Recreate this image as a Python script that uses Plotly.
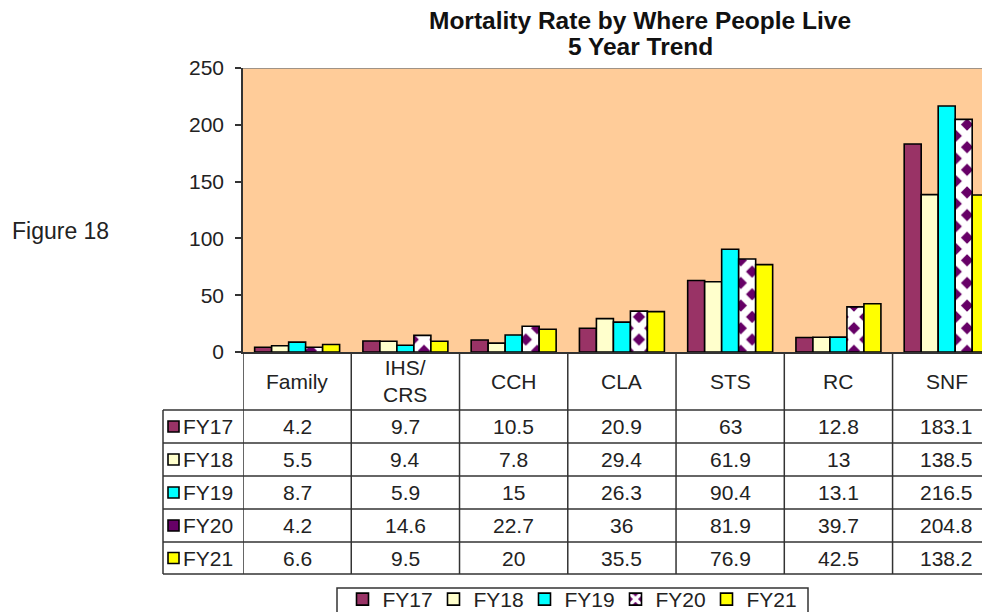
import plotly.graph_objects as go

categories = ["Family", "IHS/CRS", "CCH", "CLA", "STS", "RC", "SNF"]
header_labels = ["Family", "IHS/<br>CRS", "CCH", "CLA", "STS", "RC", "SNF"]
series_names = ["FY17", "FY18", "FY19", "FY20", "FY21"]
fy17 = [4.2, 9.7, 10.5, 20.9, 63, 12.8, 183.1]
fy18 = [5.5, 9.4, 7.8, 29.4, 61.9, 13, 138.5]
fy19 = [8.7, 5.9, 15, 26.3, 90.4, 13.1, 216.5]
fy20 = [4.2, 14.6, 22.7, 36, 81.9, 39.7, 204.8]
fy21 = [6.6, 9.5, 20, 35.5, 76.9, 42.5, 138.2]
y_ticks = [0, 50, 100, 150, 200, 250]

series_values = [fy17, fy18, fy19, fy20, fy21]
colors = ["#993366", "#FFFFCC", "#00FFFF", "#660066", "#FFFF00"]

# page body adds an 8px margin, so layout is worked out in screen pixels
OFF = 8
W, H = 990, 612
plot_left, plot_top, axis_py = 243, 68, 352  # screen pixels
M_L, M_T = plot_left - OFF, plot_top - OFF
plot_w = W - M_L
plot_h = H - M_T
cat_w = 108.26
x_end = -0.5 + plot_w / cat_w


def py(p):
    # screen pixel y -> paper y
    return (H + OFF - p) / plot_h


def px(p):
    # screen pixel x -> paper x
    return (p - plot_left) / plot_w


FONT = "Liberation Sans, Arial, sans-serif"
TXT = "#222222"

fig = go.Figure()
for name, vals, col in zip(series_names, series_values, colors):
    marker = dict(color=col, line=dict(color="black", width=1.6))
    if name == "FY20":
        marker["pattern"] = dict(shape="x", bgcolor="#660066", fgcolor="white",
                                 size=16, solidity=0.7, fillmode="replace")
    fig.add_trace(go.Bar(x=categories, y=vals, name=name, marker=marker))

shapes = []
annotations = []

# top border of plot area
shapes.append(dict(type="line", xref="paper", yref="y", x0=0, x1=1.02, y0=250, y1=250,
                   line=dict(color="#808080", width=1.5)))

# table grid
row_lines = [410, 443, 476, 509, 542, 574]
left_px = 163
for r in row_lines:
    shapes.append(dict(type="line", xref="paper", yref="paper", x0=px(left_px), x1=1.02,
                       y0=py(r), y1=py(r), line=dict(color="#333333", width=1.5)))
for k in range(len(categories) + 1):
    shapes.append(dict(type="line", xref="x", yref="paper", x0=k - 0.5, x1=k - 0.5,
                       y0=py(axis_py), y1=py(row_lines[-1]),
                       line=dict(color="#333333", width=1.5)))
shapes.append(dict(type="line", xref="paper", yref="paper", x0=px(left_px), x1=px(left_px),
                   y0=py(row_lines[0]), y1=py(row_lines[-1]),
                   line=dict(color="#333333", width=1.5)))

# legend frame (legend itself sits on top of it, without its own border)
shapes.append(dict(type="rect", xref="paper", yref="paper", x0=px(337), x1=px(808),
                   y0=py(588), y1=py(630), fillcolor="white",
                   line=dict(color="#333333", width=1.5)))

# header row
for cat, lab in zip(categories, header_labels):
    annotations.append(dict(xref="x", yref="paper", x=cat, y=py((axis_py + row_lines[0]) / 2),
                            text=lab, showarrow=False, font=dict(size=21, color=TXT),
                            yanchor="middle"))

# data rows
for i, (name, vals, col) in enumerate(zip(series_names, series_values, colors)):
    cy = (row_lines[i] + row_lines[i + 1]) / 2
    shapes.append(dict(type="rect", xref="paper", yref="paper",
                       x0=px(168), x1=px(179), y0=py(cy - 5.5), y1=py(cy + 5.5),
                       fillcolor=col, line=dict(color="black", width=1.6)))
    annotations.append(dict(xref="paper", yref="paper", x=px(181), y=py(cy), text=name,
                            showarrow=False, xanchor="left", yanchor="middle",
                            font=dict(size=21, color=TXT)))
    for cat, v in zip(categories, vals):
        annotations.append(dict(xref="x", yref="paper", x=cat, y=py(cy), text=f"{v:g}",
                                showarrow=False, yanchor="middle",
                                font=dict(size=21, color=TXT)))

# title and side label
annotations.append(dict(xref="paper", yref="paper", x=px(640), y=py(20),
                        text="<b>Mortality Rate by Where People Live</b>", showarrow=False,
                        yanchor="middle", font=dict(size=24.5, color="#111111")))
annotations.append(dict(xref="paper", yref="paper", x=px(640), y=py(47),
                        text="<b>5 Year Trend</b>", showarrow=False,
                        yanchor="middle", font=dict(size=24.5, color="#111111")))
annotations.append(dict(xref="paper", yref="paper", x=px(10), y=py(231),
                        text="Figure 18", showarrow=False, xanchor="left",
                        yanchor="middle", font=dict(size=23, color=TXT)))

fig.update_layout(
    width=W, height=H,
    margin=dict(l=M_L, r=0, t=M_T, b=0, autoexpand=False),
    paper_bgcolor="white",
    plot_bgcolor="#FFCC99",
    font=dict(family=FONT, size=21, color=TXT),
    barmode="group",
    bargap=0.215,
    bargroupgap=0,
    shapes=shapes,
    annotations=annotations,
    legend=dict(orientation="h", x=px(570), xanchor="center", y=py(579), yanchor="top",
                borderwidth=0, bgcolor="rgba(0,0,0,0)",
                entrywidth=46, entrywidthmode="pixels",
                font=dict(size=21, color=TXT)),
    xaxis=dict(type="category", range=[-0.5, x_end], showticklabels=False,
               showline=True, linecolor="#333333", linewidth=1.5, ticks="",
               showgrid=False, zeroline=False, fixedrange=True),
    yaxis=dict(domain=[py(axis_py), 1], range=[0, 250], tickvals=y_ticks,
               ticks="outside", ticklen=6, tickcolor="#333333", tickwidth=1.5,
               showline=True, linecolor="#333333", linewidth=1.5,
               showgrid=False, zeroline=False, ticklabelstandoff=7,
               tickfont=dict(size=21, color=TXT)),
)

fig.write_html("out.html")
